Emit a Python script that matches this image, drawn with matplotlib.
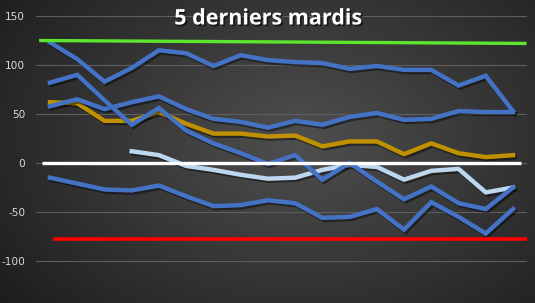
import numpy as np
import matplotlib
matplotlib.use("Agg")
import matplotlib.pyplot as plt
import matplotlib.patheffects as pe

plt.rcParams["axes.unicode_minus"] = False

title = "5 derniers mardis"
x = np.arange(18)
serie_a = [123, 106, 83, 97, 115, 112, 99, 110, 105, 103, 102, 96, 99, 95, 95, 79, 89, 53]
serie_b = [82, 90, 64, 39, 56, 33, 20, 10, -1, 8, -17, 0, -19, -37, -24, -41, -47, -25]
serie_d = [58, 65, 55, 62, 68, 55, 45, 42, 36, 43, 39, 47, 51, 44, 45, 53, 52, 52]
serie_gold = [62, 61, 43, 43, 52, 40, 30, 30, 27, 28, 17, 22, 22, 9, 20, 10, 6, 8]
serie_c = [-15, -21, -27, -28, -23, -34, -44, -43, -38, -41, -56, -55, -47, -68, -40, -55, -72, -47]
serie_light = [np.nan, np.nan, np.nan, 12, 8, -3, -7, -12, -16, -15, -7, -2, -4, -17, -8, -6, -30, -25]

green_x, green_y = [-0.4, 17.5], [125, 122]
red_x, red_y = [0.1, 17.6], [-78, -78]
white_x, white_y = [-0.3, 17.3], [0, 0]

yticks = [-100, -50, 0, 50, 100, 150]

W, H = 535, 303
fig = plt.figure(figsize=(W / 100, H / 100), dpi=100)

# radial gradient background
bg = fig.add_axes([0, 0, 1, 1], zorder=-10)
yy, xx = np.mgrid[0:H, 0:W]
r = np.sqrt(((xx - 300) / 330.0) ** 2 + ((yy - 140) / 230.0) ** 2)
val = np.clip(0.31 - 0.17 * r, 0.10, 0.33)
img = np.dstack([val, val, val])
bg.imshow(img, aspect="auto", extent=[0, 1, 0, 1], origin="upper")
bg.axis("off")

left = 36.4 / W
width = 490.2 / W
top_px, bot_px = 16, 310
ax = fig.add_axes([left, 1 - bot_px / H, width, (bot_px - top_px) / H])
ax.patch.set_alpha(0)
ax.set_xlim(-0.5, 17.5)
ax.set_ylim(-150, 150)
ax.set_yticks(yticks)
ax.set_xticks([])
ax.tick_params(axis="y", length=0, labelsize=7.6, labelcolor="#d9d9d9", pad=8)
for s in ax.spines.values():
    s.set_visible(False)
ax.grid(axis="y", color="#5e5e5e", linewidth=0.8)
ax.set_axisbelow(True)

shadow = [pe.SimpleLineShadow(offset=(1.2, -1.5), shadow_color="black", alpha=0.45), pe.Normal()]

blue = "#4472C4"
lw = 3.2
for ys in [serie_a, serie_d, serie_b, serie_c]:
    ax.plot(x, ys, color=blue, lw=lw, solid_joinstyle="miter", path_effects=shadow, zorder=3)
ax.plot(x, serie_gold, color="#BF9000", lw=lw, path_effects=shadow, zorder=2.9)
ax.plot(x, serie_light, color="#BDD7EE", lw=lw, path_effects=shadow, zorder=2.8)

ax.plot(green_x, green_y, color="#5CE62E", lw=2.4, zorder=4, solid_capstyle="butt")
ax.plot(red_x, red_y, color="#FF0000", lw=2.6, zorder=4, solid_capstyle="butt")
ax.plot(white_x, white_y, color="#FFFFFF", lw=2.4, zorder=4, solid_capstyle="butt")

t = fig.text(268 / W, 1 - 19 / H, title, color="white", fontsize=15.5, fontweight="bold",
             family="Open Sans", ha="center", va="center",
             path_effects=[pe.withSimplePatchShadow(offset=(1.2, -1.2), shadow_rgbFace="black", alpha=0.6)])

fig.savefig("out.png", dpi=100)
